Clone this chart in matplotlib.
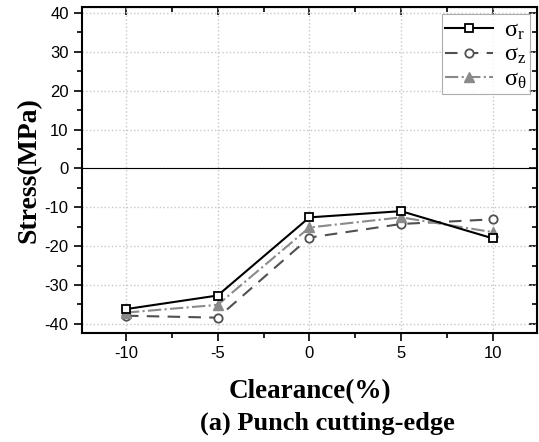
import numpy as np
import matplotlib.pyplot as plt
from matplotlib.ticker import MultipleLocator

plt.rcParams['axes.unicode_minus'] = False
plt.rcParams['mathtext.fontset'] = 'custom'
plt.rcParams['mathtext.rm'] = 'Liberation Serif'
plt.rcParams['mathtext.it'] = 'Liberation Serif'

clearance = [-10, -5, 0, 5, 10]
sigma_r = [-36.2, -32.7, -12.6, -11.0, -18.0]
sigma_z = [-37.9, -38.4, -17.8, -14.3, -13.1]
sigma_t = [-37.1, -35.1, -15.2, -12.6, -16.4]

fig = plt.figure(figsize=(5.39, 4.42), dpi=100)
ax = fig.add_axes([0.152, 0.247, 0.844, 0.737])

ax.plot(clearance, sigma_r, '-', color='black', lw=1.5, marker='s', ms=6,
        mfc='white', mec='black', mew=1.3, label=r'$\sigma_{\mathrm{r}}$', zorder=5)
ax.plot(clearance, sigma_z, '--', color='#505050', lw=1.5, dashes=(6, 4), marker='o', ms=6,
        mfc='white', mec='#505050', mew=1.3, label=r'$\sigma_{\mathrm{z}}$', zorder=4)
ax.plot(clearance, sigma_t, '-.', color='#8a8a8a', lw=1.5, marker='^', ms=7,
        mfc='#8a8a8a', mec='#8a8a8a', label=r'$\sigma_{\theta}$', zorder=4)

ax.axhline(0, color='black', lw=0.8, zorder=2)

ax.set_xlim(-12.4, 12.4)
ax.set_ylim(-42.3, 41.5)
ax.set_xticks(clearance)
ax.set_yticks(np.arange(-40, 41, 10))
ax.xaxis.set_minor_locator(MultipleLocator(2.5))
ax.yaxis.set_minor_locator(MultipleLocator(5))
ax.set_axisbelow(True)
ax.grid(True, which='major', linestyle=':', color='#c8c8c8', lw=1.0)

ax.tick_params(which='both', direction='out', width=1.2)
ax.tick_params(which='major', length=6, labelsize=12)
ax.tick_params(which='minor', length=3.5)
for lab in ax.get_xticklabels() + ax.get_yticklabels():
    lab.set_fontfamily('Liberation Sans')
for s in ax.spines.values():
    s.set_linewidth(1.5)

# inward ticks on top and right
sec_x = ax.secondary_xaxis('top')
sec_x.set_xticks(clearance)
sec_x.xaxis.set_minor_locator(MultipleLocator(2.5))
sec_x.tick_params(which='both', direction='in', labeltop=False, width=1.2)
sec_x.tick_params(which='major', length=6)
sec_x.tick_params(which='minor', length=3.5)
sec_y = ax.secondary_yaxis('right')
sec_y.set_yticks(np.arange(-40, 41, 10))
sec_y.yaxis.set_minor_locator(MultipleLocator(5))
sec_y.tick_params(which='both', direction='in', labelright=False, width=1.2)
sec_y.tick_params(which='major', length=6)
sec_y.tick_params(which='minor', length=3.5)

leg = ax.legend(loc='upper right', fontsize=17.5, frameon=True, fancybox=False,
                edgecolor='#999999', handlelength=2.0, borderaxespad=0.3,
                labelspacing=0.02, borderpad=0.12, handletextpad=0.45)
leg.get_frame().set_linewidth(0.8)

ax.set_ylabel('Stress(MPa)', fontfamily='Liberation Serif', fontweight='bold',
              fontsize=20, labelpad=2)
fig.text(0.575, 0.113, 'Clearance(%)', ha='center', va='center',
         fontfamily='Liberation Serif', fontweight='bold', fontsize=19.5)
fig.text(0.607, 0.043, '(a) Punch cutting-edge', ha='center', va='center',
         fontfamily='Liberation Serif', fontweight='bold', fontsize=19)

plt.savefig('out.png', dpi=100)
